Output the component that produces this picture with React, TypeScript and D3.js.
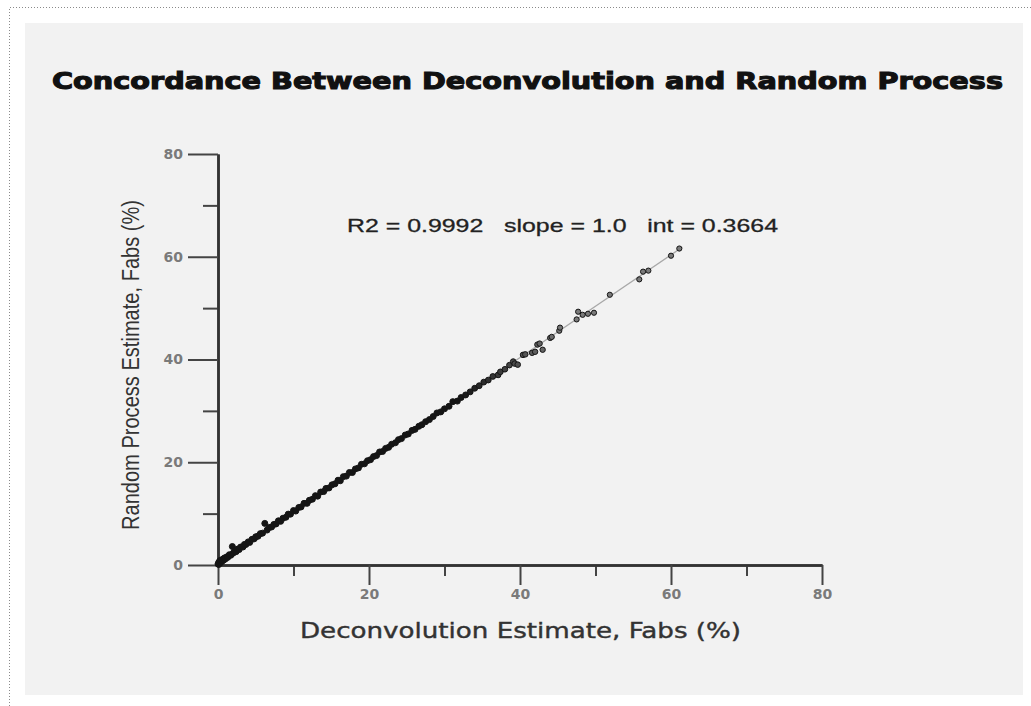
import React, { useEffect, useRef } from 'react';
import * as d3 from 'd3';

// deconvolution estimate (x) and random process estimate (y), Fabs %
const deconvEstimate = [
  0.0, 0.1, 0.1, 0.2, 0.3, 0.3, 0.4, 0.5, 0.6, 0.7, 0.8, 0.9, 1.0, 1.2, 1.3, 1.5, 1.7, 1.9, 2.0, 2.2,
  2.4, 2.6, 2.8, 3.0, 3.3, 3.5, 3.7, 4.0, 4.2, 4.5, 4.8, 5.0, 5.3, 5.6, 5.9, 6.2, 6.5, 6.8, 7.1, 7.4,
  7.7, 8.0, 8.3, 8.6, 9.0, 9.3, 9.6, 10.0, 10.3, 10.7, 11.0, 11.4, 11.8, 12.1, 12.5, 12.9, 13.2, 13.6, 14.0, 14.3,
  14.7, 15.1, 15.5, 15.9, 16.2, 16.6, 17.0, 17.4, 17.8, 18.2, 18.6, 19.0, 19.4, 19.8, 20.2, 20.6, 21.0, 21.4, 21.8, 22.2,
  22.6, 23.0, 23.5, 23.9, 24.3, 24.8, 25.2, 25.7, 26.1, 26.6, 27.0, 27.5, 28.0, 28.5, 29.0, 29.5, 30.0, 30.6, 31.1, 31.7,
  32.2, 32.8, 33.4, 34.0, 34.6, 35.2, 35.8, 36.4, 37.1, 37.4, 38.0, 38.6, 39.1, 39.3, 39.7, 40.4, 40.7, 41.6, 42.0, 42.3,
  42.6, 43.0, 44.0, 44.2, 45.2, 45.3, 47.5, 47.7, 48.3, 49.0, 49.8, 51.9, 55.8, 56.3, 57.0, 60.0, 61.1,
];
const randomEstimate = [
  0.2, 0.5, 0.1, 0.7, 0.4, 0.9, 0.6, 1.0, 0.8, 1.2, 1.0, 1.4, 1.2, 1.6, 1.5, 2.0, 1.9, 3.6, 2.3, 2.7,
  2.6, 3.1, 3.0, 3.5, 3.5, 4.0, 4.0, 4.5, 4.4, 5.0, 5.1, 5.5, 5.6, 6.1, 6.2, 8.1, 6.8, 7.3, 7.4, 7.9,
  8.0, 8.6, 8.5, 9.1, 9.3, 9.9, 9.9, 10.6, 10.5, 11.2, 11.3, 12.0, 12.0, 12.6, 12.8, 13.5, 13.4, 14.2, 14.3, 14.9,
  15.0, 15.6, 15.8, 16.5, 16.4, 17.2, 17.3, 18.0, 18.0, 18.7, 18.9, 19.6, 19.7, 20.3, 20.5, 21.1, 21.3, 22.0, 22.1, 22.7,
  22.9, 23.5, 23.8, 24.4, 24.6, 25.3, 25.5, 26.2, 26.4, 27.0, 27.3, 27.9, 28.3, 28.9, 29.6, 29.8, 30.4, 30.9, 31.8, 31.9,
  32.6, 33.1, 33.7, 34.4, 34.9, 35.6, 36.0, 36.7, 37.0, 37.6, 38.1, 38.9, 39.6, 39.2, 39.0, 40.9, 41.0, 41.3, 41.5, 42.9,
  43.1, 41.9, 44.2, 44.4, 45.6, 46.2, 47.8, 49.3, 48.7, 48.9, 49.1, 52.6, 55.6, 57.1, 57.3, 60.2, 61.6,
];

const fitSlope = 1.0;
const fitIntercept = 0.3664;
const fitRange = [0, 61.5];

const majorTicks = [0, 20, 40, 60, 80];
const minorTicks = [10, 30, 50, 70];

const titleText = 'Concordance Between Deconvolution and Random Process';
const statsText = 'R2 = 0.9992   slope = 1.0   int = 0.3664';
const xLabel = 'Deconvolution Estimate, Fabs (%)';
const yLabel = 'Random Process Estimate, Fabs (%)';

const W = 1031;
const H = 706;

export default function App() {
  const ref = useRef<SVGSVGElement>(null);

  useEffect(() => {
    const svg = d3.select(ref.current);
    svg.selectAll('*').remove();

    const x = d3.scaleLinear().domain([0, 80]).range([218, 822]);
    const y = d3.scaleLinear().domain([0, 80]).range([565, 154]);

    // page frame + grey panel
    svg.append('rect').attr('x', 0).attr('y', 0).attr('width', W).attr('height', H).attr('fill', '#fff');
    svg.append('path')
      .attr('d', `M9.5,${H} L9.5,7.5 L${W},7.5`)
      .attr('fill', 'none').attr('stroke', '#8a8a8a').attr('stroke-dasharray', '1,2');
    svg.append('rect').attr('x', 25).attr('y', 23).attr('width', 998).attr('height', 672).attr('fill', '#f2f2f2');

    svg.append('text')
      .attr('x', 52).attr('y', 89)
      .attr('font-family', 'DejaVu Sans').attr('font-weight', 'bold').attr('font-size', 23)
      .attr('textLength', 951).attr('lengthAdjust', 'spacingAndGlyphs')
      .attr('fill', '#111').attr('stroke', '#111').attr('stroke-width', 1.1)
      .text(titleText);

    const axisColor = '#333';

    // y axis: minor then major
    const gy = svg.append('g');
    gy.append('g').attr('transform', `translate(${x(0)},0)`)
      .call(d3.axisLeft(y).tickValues(minorTicks).tickSize(15).tickSizeOuter(0).tickFormat(() => ''));
    gy.append('g').attr('transform', `translate(${x(0)},0)`)
      .call(d3.axisLeft(y).tickValues(majorTicks).tickSize(30).tickSizeOuter(0).tickPadding(5));

    const gx = svg.append('g');
    gx.append('g').attr('transform', `translate(0,${y(0)})`)
      .call(d3.axisBottom(x).tickValues(minorTicks).tickSize(11).tickSizeOuter(0).tickFormat(() => ''));
    gx.append('g').attr('transform', `translate(0,${y(0)})`)
      .call(d3.axisBottom(x).tickValues(majorTicks).tickSize(20).tickSizeOuter(0).tickPadding(4));

    svg.selectAll('.domain').attr('stroke', axisColor).attr('stroke-width', 2.5);
    svg.selectAll('.tick line').attr('stroke', '#444').attr('stroke-width', 2);
    svg.selectAll('.tick text')
      .attr('font-family', 'DejaVu Sans').attr('font-weight', 'bold').attr('font-size', 14)
      .attr('fill', '#7a7a7a');

    // axis titles
    svg.append('text')
      .attr('x', 300).attr('y', 638)
      .attr('font-family', 'DejaVu Sans').attr('font-size', 21)
      .attr('textLength', 441).attr('lengthAdjust', 'spacingAndGlyphs')
      .attr('fill', '#333').attr('stroke', '#333').attr('stroke-width', 0.4)
      .text(xLabel);

    svg.append('text')
      .attr('transform', 'translate(139,530) rotate(-90)')
      .attr('font-family', 'Liberation Sans Narrow, Liberation Sans, sans-serif').attr('font-size', 23)
      .attr('textLength', 330).attr('lengthAdjust', 'spacingAndGlyphs')
      .attr('fill', '#333')
      .text(yLabel);

    // regression line
    svg.append('line')
      .attr('x1', x(fitRange[0])).attr('y1', y(fitIntercept + fitSlope * fitRange[0]))
      .attr('x2', x(fitRange[1])).attr('y2', y(fitIntercept + fitSlope * fitRange[1]))
      .attr('stroke', '#a8a8a8').attr('stroke-width', 1.3);

    // dense points read as solid black, sparse ones as grey dots
    const shade = d3.scaleLinear<string>().domain([32, 46]).range(['#151515', '#7a7a7a']).clamp(true);
    const size = d3.scaleLinear().domain([32, 46]).range([3, 2.6]).clamp(true);

    const n = Math.min(deconvEstimate.length, randomEstimate.length);
    const pts = d3.range(n).map((i) => [deconvEstimate[i], randomEstimate[i]]);
    svg.append('g').selectAll('circle').data(pts).join('circle')
      .attr('cx', (d) => x(d[0])).attr('cy', (d) => y(d[1]))
      .attr('r', (d) => size(d[0]))
      .attr('fill', (d) => shade(d[0]))
      .attr('stroke', '#151515').attr('stroke-width', 1);

    svg.append('text')
      .attr('x', 347).attr('y', 232)
      .attr('font-family', 'Liberation Sans').attr('font-size', 19)
      .attr('textLength', 431).attr('lengthAdjust', 'spacingAndGlyphs')
      .attr('fill', '#222').attr('stroke', '#222').attr('stroke-width', 0.3)
      .attr('xml:space', 'preserve')
      .style('white-space', 'pre')
      .text(statsText);
  }, []);

  return (
    <svg ref={ref} width={W} height={H}
      style={{ position: 'absolute', left: 0, top: 0, display: 'block' }} />
  );
}
